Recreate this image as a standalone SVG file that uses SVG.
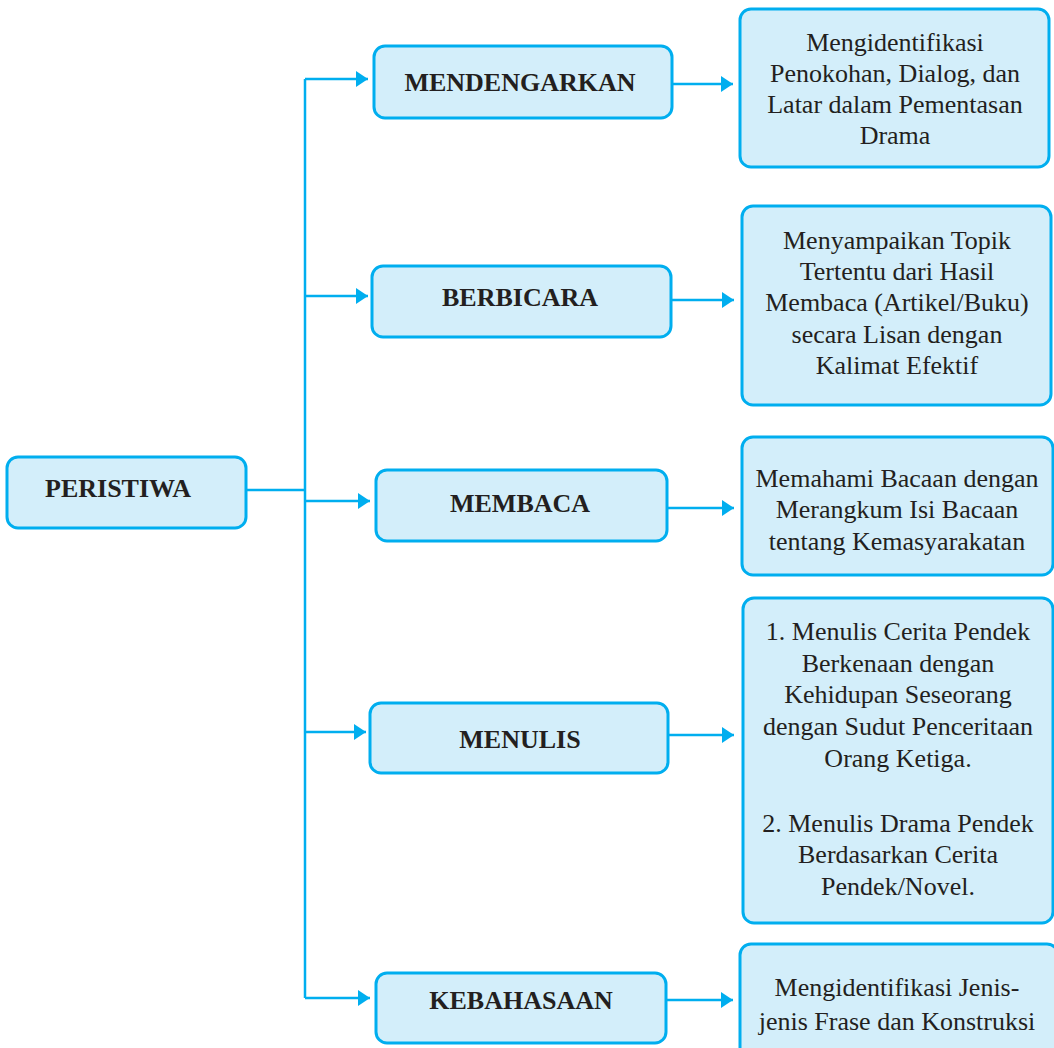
<svg xmlns="http://www.w3.org/2000/svg" width="1054" height="1048" viewBox="0 0 1054 1048">
<defs>
<style>
.box{fill:#D3EEFA;stroke:#00AEEF;stroke-width:3}
.lbl{font-family:"Liberation Serif","Times New Roman",serif;font-size:26px;font-weight:bold;fill:#231F20;text-anchor:middle}
.txt{font-family:"Liberation Serif","Times New Roman",serif;font-size:26px;fill:#231F20;text-anchor:middle}
.con{fill:none;stroke:#00AEEF;stroke-width:2.5}
</style>
<marker id="ah" viewBox="0 0 12 16" refX="12" refY="8" markerWidth="12" markerHeight="16" markerUnits="userSpaceOnUse" orient="auto">
<path d="M0,0 L12,8 L0,16 Z" fill="#00AEEF"/>
</marker>
</defs>
<rect width="1054" height="1048" fill="#FFFFFF"/>
<g id="connectors">
<path class="con" d="M246,490 H305"/>
<path class="con" d="M305,79 V998"/>
<path class="con" d="M305,79 H368" marker-end="url(#ah)"/>
<path class="con" d="M305,296 H368" marker-end="url(#ah)"/>
<path class="con" d="M305,501 H370" marker-end="url(#ah)"/>
<path class="con" d="M305,732 H366" marker-end="url(#ah)"/>
<path class="con" d="M305,998 H370" marker-end="url(#ah)"/>
<path class="con" d="M667,84 H733" marker-end="url(#ah)"/>
<path class="con" d="M671,300 H734" marker-end="url(#ah)"/>
<path class="con" d="M667,508 H734" marker-end="url(#ah)"/>
<path class="con" d="M668,735 H734" marker-end="url(#ah)"/>
<path class="con" d="M667,1000 H733" marker-end="url(#ah)"/>
</g>
<g id="peristiwa">
<rect class="box" x="7" y="457" width="239" height="71" rx="11"/>
<text class="lbl" x="118" y="497">PERISTIWA</text>
</g>
<g id="mendengarkan">
<rect class="box" x="374" y="46" width="298" height="72" rx="11"/>
<text class="lbl" x="520" y="91">MENDENGARKAN</text>
</g>
<g id="berbicara">
<rect class="box" x="372" y="266" width="299" height="71" rx="11"/>
<text class="lbl" x="520" y="306">BERBICARA</text>
</g>
<g id="membaca">
<rect class="box" x="376" y="470" width="291" height="71" rx="11"/>
<text class="lbl" x="520" y="512">MEMBACA</text>
</g>
<g id="menulis">
<rect class="box" x="370" y="703" width="298" height="70" rx="11"/>
<text class="lbl" x="520" y="748">MENULIS</text>
</g>
<g id="kebahasaan">
<rect class="box" x="376" y="973" width="290" height="70" rx="11"/>
<text class="lbl" x="521" y="1009">KEBAHASAAN</text>
</g>
<g id="desc-mendengarkan">
<rect class="box" x="740" y="9" width="309" height="158" rx="11"/>
<text class="txt" x="895" y="51">Mengidentifikasi</text>
<text class="txt" x="895" y="82">Penokohan, Dialog, dan</text>
<text class="txt" x="895" y="113">Latar dalam Pementasan</text>
<text class="txt" x="895" y="144">Drama</text>
</g>
<g id="desc-berbicara">
<rect class="box" x="742" y="206" width="309" height="199" rx="11"/>
<text class="txt" x="897" y="249">Menyampaikan Topik</text>
<text class="txt" x="897" y="280">Tertentu dari Hasil</text>
<text class="txt" x="897" y="311">Membaca (Artikel/Buku)</text>
<text class="txt" x="897" y="343">secara Lisan dengan</text>
<text class="txt" x="897" y="374">Kalimat Efektif</text>
</g>
<g id="desc-membaca">
<rect class="box" x="742" y="437" width="311" height="138" rx="11"/>
<text class="txt" x="897" y="487">Memahami Bacaan dengan</text>
<text class="txt" x="897" y="518">Merangkum Isi Bacaan</text>
<text class="txt" x="897" y="550">tentang Kemasyarakatan</text>
</g>
<g id="desc-menulis">
<rect class="box" x="743" y="598" width="310" height="325" rx="11"/>
<text class="txt" x="898" y="640">1. Menulis Cerita Pendek</text>
<text class="txt" x="898" y="672">Berkenaan dengan</text>
<text class="txt" x="898" y="703">Kehidupan Seseorang</text>
<text class="txt" x="898" y="735">dengan Sudut Penceritaan</text>
<text class="txt" x="898" y="767">Orang Ketiga.</text>
<text class="txt" x="898" y="832">2. Menulis Drama Pendek</text>
<text class="txt" x="898" y="863">Berdasarkan Cerita</text>
<text class="txt" x="898" y="895">Pendek/Novel.</text>
</g>
<g id="desc-kebahasaan">
<rect class="box" x="740" y="944" width="318" height="120" rx="11"/>
<text class="txt" x="897" y="996">Mengidentifikasi Jenis-</text>
<text class="txt" x="897" y="1030">jenis Frase dan Konstruksi</text>
</g>
</svg>
